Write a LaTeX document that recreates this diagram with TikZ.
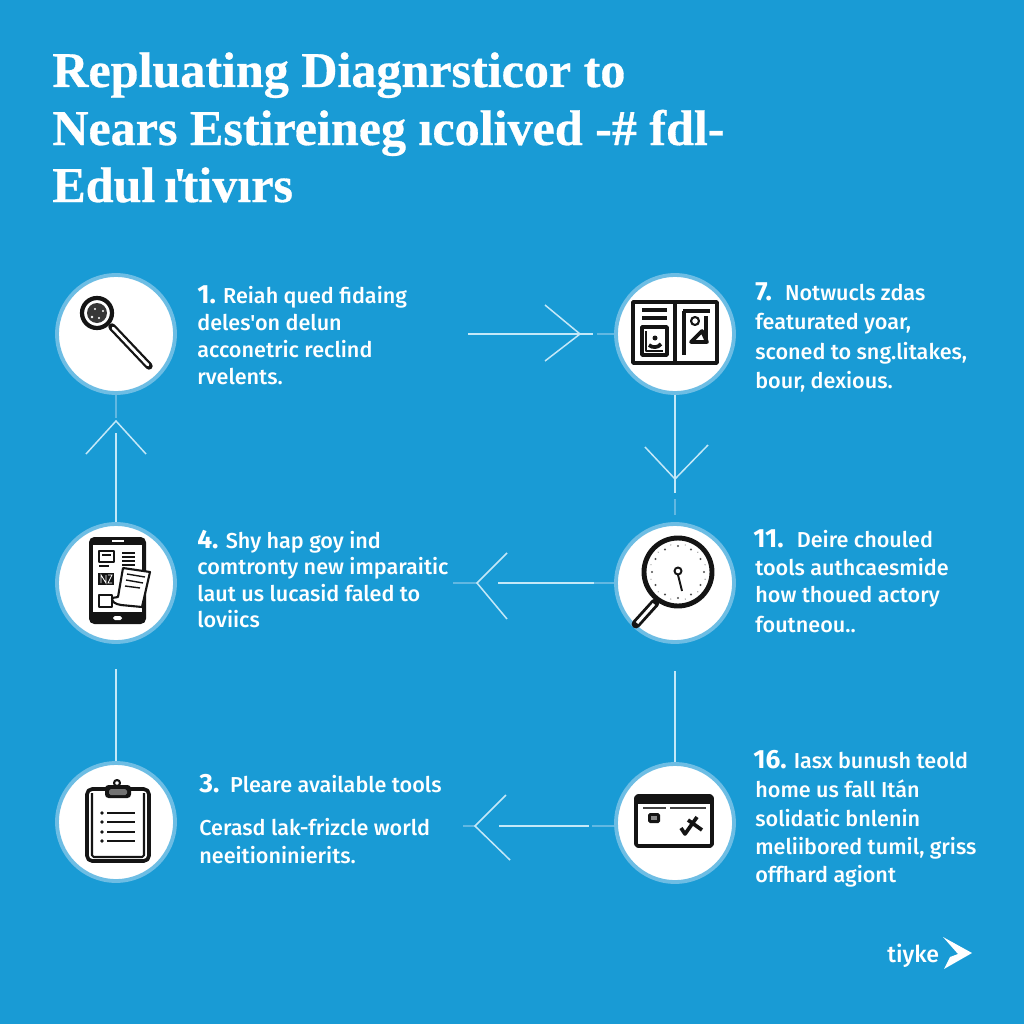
\documentclass[tikz,border=0pt]{standalone}
\usepackage{fontspec}
\setmainfont{Fira Sans}
\newfontfamily\titlef{Liberation Serif}[BoldFeatures={FakeBold=0.6}]
\newfontfamily\bodyf{Fira Sans}[UprightFont={* Medium},BoldFont={* Bold}]
\definecolor{bg}{HTML}{199BD5}
\definecolor{ringc}{HTML}{6DBDE4}
\definecolor{linec}{HTML}{C4E8F8}
\definecolor{faintc}{HTML}{62B8E2}
\definecolor{ink}{HTML}{141414}
\newcommand{\tl}[4]{\node[bodytext] (#1) at (#2,#3) {#4};}
\tikzset{
  disc/.style={circle,fill=white,draw=ringc,line width=2.2pt,minimum size=2.36cm,inner sep=0pt},
  bodytext/.style={anchor=base west,inner sep=0pt,text=white,font=\bodyf\fontsize{12.3pt}{14pt}\selectfont},
  titletext/.style={anchor=base west,inner sep=0pt,text=white,font=\titlef\bfseries\fontsize{28.5pt}{32pt}\selectfont},
  conn/.style={draw=linec,line width=0.85pt},
  faint/.style={draw=faintc,line width=0.85pt},
  ic/.style={draw=ink,line width=2.1pt,line join=round},
  icthin/.style={draw=ink,line width=1.2pt,line join=round},
  chevron/.pic={\draw[conn] (-30,33) -- (0,0) -- (30,33);}
}
\newcommand{\nm}[1]{{\bfseries\fontsize{15pt}{14pt}\selectfont #1}}
\begin{document}
\begin{tikzpicture}[x=0.02cm,y=-0.02cm]
\useasboundingbox (0,0) rectangle (1024,1024);
\fill[bg] (0,0) rectangle (1024,1024);

% title
\node[titletext] (ta) at (52,87) {Repluating Diagnrsticor to};
\node[titletext] (tb) at (52,145) {Nears Estireineg ıcolived -\# fdl-};
\node[titletext] (tc) at (52,202) {Edul\kern-2pt{} ı\kern-3pt'\kern-3pt tivırs};

% circles
\node[disc] (c1) at (116,334) {};
\node[disc] (c7) at (675,334) {};
\node[disc] (c4) at (116,583) {};
\node[disc] (c11) at (675,583) {};
\node[disc] (c3) at (116,822) {};
\node[disc] (c16) at (675,823) {};

% free ends
\coordinate (e1a) at (116,418);
\coordinate (e1b) at (116,433);
\coordinate (e1t) at (116,421);
\coordinate (e2a) at (468,334);
\coordinate (e2t) at (580,334);
\coordinate (e2b) at (593,334);
\coordinate (e2c) at (597,334);
\coordinate (e3t) at (675,479);
\coordinate (e3b) at (675,493);
\coordinate (e3c) at (675,499);
\coordinate (e3d) at (675,515);
\coordinate (e4a) at (453,583);
\coordinate (e4t) at (477,583);
\coordinate (e4b) at (498,583);
\coordinate (e4c) at (594,583);
\coordinate (e5a) at (116,669);
\coordinate (e6a) at (675,671);
\coordinate (e7a) at (463,826);
\coordinate (e7t) at (475,826);
\coordinate (e7b) at (499,826);
\coordinate (e7c) at (589,826);
\coordinate (e7d) at (592,826);

% connectors
\draw[conn] (c4.north) -- (e1b);
\draw[faint] (c1.south) -- (e1a);
\pic at (e1t) {chevron};
\draw[conn] (e2a) -- (e2b);
\draw[faint] (e2c) -- (c7.west);
\draw[conn] (e2t) ++(-35,-29) -- (e2t) -- ++(-35,27);
\draw[conn] (c7.south) -- (e3b);
\draw[faint] (e3c) -- (e3d);
\draw[conn] (e3t) ++(-30,-32) -- (e3t) -- ++(33,-34);
\draw[faint] (e4a) -- (e4t);
\draw[conn] (e4b) -- (e4c);
\draw[faint] (e4c) -- (c11.west);
\draw[conn] (e4t) ++(30,-30) -- (e4t) -- ++(30,36);
\draw[conn] (e5a) -- (c3.north);
\draw[conn] (e6a) -- (c16.north);
\draw[faint] (e7a) -- (e7t);
\draw[conn] (e7b) -- (e7c);
\draw[faint] (e7d) -- (e7d -| c16.west);
\draw[conn] (e7t) ++(31,-31) -- (e7t) -- ++(35,34);

% text blocks
\tl{a1}{197}{303}{\nm{1.} Reiah qued fidaing}
\tl{a2}{197}{330}{deles'on delun}
\tl{a3}{197}{357}{acconetric reclind}
\tl{a4}{197}{384}{rvelents.}
\tl{b1}{755}{300}{\nm{7.} \;Notwucls zdas}
\tl{b2}{755}{329}{featurated yoar,}
\tl{b3}{755}{359}{sconed to sng.litakes,}
\tl{b4}{755}{388}{bour, dexious.}
\tl{d1}{197}{548}{\nm{4.} Shy hap goy ind}
\tl{d2}{197}{574}{comtronty new imparaitic}
\tl{d3}{197}{601}{laut us lucasid faled to}
\tl{d4}{197}{627}{loviics}
\tl{f1}{753}{547}{\nm{11.} \;Deire chouled}
\tl{f2}{755}{575}{tools authcaesmide}
\tl{f3}{755}{602}{how thoued actory}
\tl{f4}{755}{632}{foutneou..}
\tl{g1}{199}{792}{\nm{3.} \,Pleare available tools}
\tl{g2}{199}{835}{Cerasd lak-frizcle world}
\tl{g3}{199}{863}{neeitioninierits.}
\tl{h1}{753}{768}{\nm{16.} Iasx bunush teold}
\tl{h2}{755}{797}{home us fall Itán}
\tl{h3}{755}{826}{solidatic bnlenin}
\tl{h4}{755}{854}{meliibored tumil, griss}
\tl{h5}{755}{882}{offhard agiont}

% logo
\node[anchor=base west,inner sep=0pt,text=white,font=\bodyf\fontsize{13.2pt}{16pt}\selectfont] (logo) at (887,962) {tiyke};
\fill[white] (943,937) -- (972,953) -- (944,969) -- (950,957) -- (958,954) -- cycle;

% icon 1: magnifier
\draw[ink,line width=4.2pt,line cap=round] (112,327) -- (149,366);
\draw[white,line width=1.6pt,line cap=round] (113,328) -- (148,365);
\draw[ink,line width=2.4pt] (97,313) circle (15);
\fill[ink!85] (97,313) circle (10);
\fill[white] (92,317) circle (1.4) (99,318) circle (1.2) (95,309) circle (1.1) (103,311) circle (1.2);

% icon 7: book panel
\draw[ic] (633,302) rectangle (717,363);
\draw[ic] (675,302) -- (675,363);
\draw[ic] (642,310) -- (667,310) (642,318) -- (667,318);
\draw[ic] (642,327) rectangle (667,355);
\draw[icthin] (646,331) -- (646,351) -- (663,351);
\draw[ic] (649,345) .. controls (652,348) and (658,348) .. (661,344);
\fill[ink] (655,338) circle (2.5);
\draw[ic] (683,311) -- (710,311);
\draw[ic] (684,311) -- (684,355);
\draw[icthin] (695,321) circle (4);
\draw[ic] (706,316) -- (706,342);
\draw[ic] (691,342) -- (707,342) -- (702,331) -- cycle;

% icon 4: tablet
\fill[ink,rounded corners=3pt] (89,537) rectangle (146,624);
\fill[white] (93,545) rectangle (142,612);
\draw[white,line width=0.9pt] (112,541) -- (124,541);
\fill[white,rounded corners=1pt] (113,616) rectangle (122,620);
\draw[icthin] (99,551) rectangle (114,562);
\draw[icthin] (102,555) -- (111,555);
\draw[icthin] (99,566) -- (109,566);
\foreach \yy in {553,557,561,565} {\draw[ink,line width=0.7pt] (122,\yy) -- (135,\yy);}
\fill[ink] (98,573) rectangle (114,585);
\draw[white,line width=0.5pt] (101,583) -- (101,575) -- (106,583) -- (106,575) (108,575) -- (112,575) -- (108,583) -- (112,583);
\draw[icthin] (99,595) rectangle (112,607);
\draw[icthin,fill=white] (123,568) -- (150,572) -- (142,607) -- (121,605) .. controls (115,604) and (112,602) .. (112,598) -- (118,597) -- cycle;
\draw[ink,line width=0.8pt] (127,574) -- (145,577) (126,580) -- (143,583) (125,586) -- (140,588);

% icon 11: gauge magnifier
\draw[ink,line width=5pt,line cap=round] (655,603) -- (636,624);
\draw[white,line width=1.7pt] (654,604) -- (637,623);
\draw[ink,line width=2.8pt] (678,572) circle (34);
\foreach \a in {0,30,...,330} {\fill[ink!75] (678,572) ++(\a:26) circle (1.1);}
\foreach \a in {15,45,...,345} {\fill[ink!45] (678,572) ++(\a:28) circle (0.7);}
\draw[ink,line width=1.1pt] (678,571) circle (3.5);
\draw[ink,line width=1.1pt] (678,575) -- (682,591);

% icon 3: clipboard
\draw[ic,rounded corners=3pt] (87,789) rectangle (149,861);
\draw[icthin,rounded corners=1pt] (92,793) -- (92,857) -- (144,857) -- (144,793);
\draw[icthin] (117,783) circle (3);
\fill[ink,rounded corners=2pt] (105,785) rectangle (131,798);
\fill[ink!60,rounded corners=1pt] (109,789) rectangle (127,795);
\foreach \yy in {813,822,832,841} {
  \draw[ink,line width=1.5pt] (107,\yy) -- (135,\yy);
  \fill[ink] (102,\yy) circle (1.8);
}

% icon 16: window
\draw[ic,rounded corners=1pt] (636,796) rectangle (712,846);
\fill[ink] (636,795) rectangle (712,804);
\draw[ink!80,line width=1.2pt] (643,808) -- (666,808) (670,808) -- (706,808);
\fill[ink,rounded corners=1pt] (648,813) rectangle (660,823);
\fill[ink!50] (651,816) rectangle (657,820);
\draw[ic] (681,828) -- (685,834) -- (697,817);
\draw[ic] (688,820) -- (702,830);
\end{tikzpicture}
\end{document}
